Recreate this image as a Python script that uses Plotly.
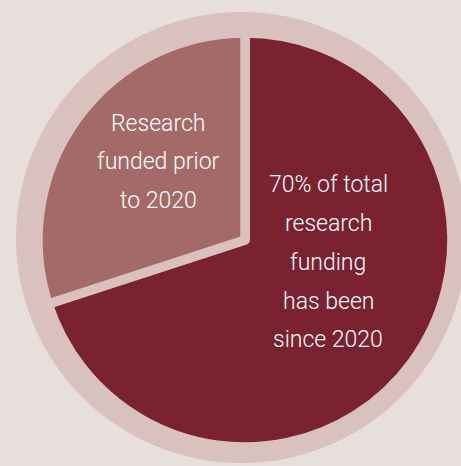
import plotly.graph_objects as go

# Data
categories = ["Since 2020", "Prior to 2020"]
values = [70, 30]
slice_colors = ["#7a2230", "#a46a68"]

dark_lines = ["70% of total", "research", "funding", "has been", "since 2020"]
light_lines = ["Research", "funded prior", "to 2020"]

W, H = 461, 466
BG = "#e8dedb"
RING = "#d9c1bd"
FONT = "Roboto, Liberation Sans, sans-serif"

fig = go.Figure()
fig.add_trace(go.Pie(
    labels=categories,
    values=values,
    sort=False,
    direction="clockwise",
    rotation=0,
    marker=dict(colors=slice_colors, line=dict(color=RING, width=9.5)),
    textinfo="none",
    hoverinfo="label+percent",
    showlegend=False,
    domain=dict(x=[38 / W, 452 / W], y=[1 - 447 / H, 1 - 33 / H]),
))

# outer ring
fig.add_shape(type="circle", xref="paper", yref="paper",
              x0=16 / W, x1=467 / W, y0=1 - 463 / H, y1=1 - 12 / H,
              fillcolor=RING, line=dict(width=0), layer="below")

def add_lines(lines, cx, ys):
    for t, y in zip(lines, ys):
        fig.add_annotation(text=t, x=cx / W, y=1 - y / H, xref="paper", yref="paper",
                           xanchor="center", yanchor="middle", showarrow=False,
                           font=dict(family=FONT, size=23, color="white", weight=300))

add_lines(dark_lines, 328, [184, 223, 262, 301, 339])
add_lines(light_lines, 158, [123, 161, 200])

fig.update_layout(
    width=W, height=H,
    margin=dict(l=0, r=0, t=0, b=0),
    paper_bgcolor=BG, plot_bgcolor=BG,
)
fig.write_html("out.html")
